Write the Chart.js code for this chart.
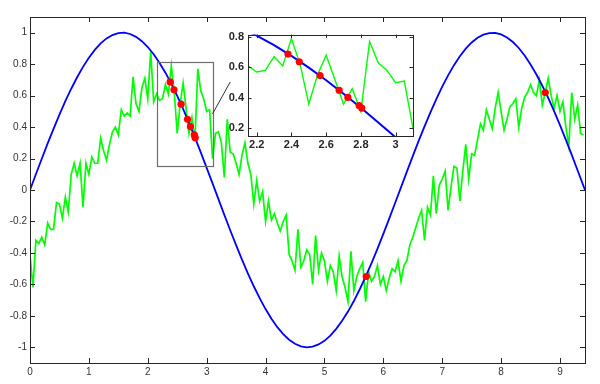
<!DOCTYPE html>
<html>
<head>
<meta charset="utf-8">
<script src="https://cdn.jsdelivr.net/npm/chart.js@4.4.1/dist/chart.umd.min.js"></script>
<style>
  html, body { margin: 0; padding: 0; background: #fff; }
  #wrap { position: relative; width: 600px; height: 384px; }
  #mainChart { position: absolute; left: 0; top: 0; }
  #insetChart { position: absolute; left: 218px; top: 24px; }
</style>
</head>
<body>
<div id="wrap">
  <canvas id="mainChart" width="600" height="384"></canvas>
  <canvas id="insetChart" width="200" height="130"></canvas>
</div>
<script>
// x range of the figure (0 .. 3*pi)
const xMax = 9.4248;

// blue curve, sampled every 0.1 from 0 to 9.4, then the end point
const blueStep = 0.1;
const blueValues = [
  0, 0.100, 0.199, 0.296, 0.389, 0.479, 0.565, 0.644, 0.717, 0.783,
  0.841, 0.891, 0.932, 0.964, 0.985, 0.997, 1.000, 0.992, 0.974, 0.946,
  0.909, 0.863, 0.808, 0.746, 0.675, 0.598, 0.516, 0.427, 0.335, 0.239,
  0.141, 0.042, -0.058, -0.158, -0.256, -0.351, -0.443, -0.530, -0.612, -0.688,
  -0.757, -0.818, -0.872, -0.916, -0.952, -0.978, -0.994, -1.000, -0.996, -0.982,
  -0.959, -0.926, -0.883, -0.832, -0.773, -0.706, -0.631, -0.551, -0.465, -0.374,
  -0.279, -0.182, -0.083, 0.017, 0.117, 0.215, 0.312, 0.405, 0.494, 0.578,
  0.657, 0.729, 0.794, 0.850, 0.899, 0.938, 0.968, 0.988, 0.998, 0.999,
  0.989, 0.970, 0.941, 0.903, 0.855, 0.798, 0.734, 0.663, 0.585, 0.501,
  0.412, 0.319, 0.223, 0.124, 0.025
];
const blueEnd = 0;

// noisy green signal, one value every 0.05 from 0 to 9.4
const greenStep = 0.05;
const greenValues = [
  -0.41, -0.62, -0.32, -0.34, -0.30, -0.35, -0.21, -0.25, -0.25, -0.08,
  -0.09, -0.18, -0.045, -0.14, 0.10, 0.17, 0.09, 0.17, -0.11, 0.17,
  0.10, 0.21, 0.17, 0.17, 0.33, 0.25, 0.19, 0.29, 0.37, 0.40,
  0.35, 0.51, 0.47, 0.49, 0.47, 0.72, 0.55, 0.50, 0.65, 0.71,
  0.58, 0.88, 0.56, 0.61, 0.57, 0.58, 0.67, 0.61, 0.79, 0.62,
  0.36, 0.55, 0.68, 0.52, 0.36, 0.46, 0.31, 0.77, 0.63, 0.58,
  0.50, 0.51, 0.20, 0.36, 0.37, 0.30, 0.08, 0.45, 0.24, 0.23,
  0.17, 0.10, 0.22, 0.30, 0.17, 0.10, -0.09, 0.06, -0.07, -0.01,
  -0.20, -0.07, -0.19, -0.15, -0.21, -0.26, -0.20, -0.16, -0.41, -0.45,
  -0.51, -0.25, -0.49, -0.45, -0.38, -0.41, -0.60, -0.29, -0.51, -0.40,
  -0.45, -0.58, -0.48, -0.52, -0.64, -0.42, -0.55, -0.62, -0.71, -0.39,
  -0.64, -0.55, -0.50, -0.46, -0.71, -0.52, -0.58, -0.55, -0.48, -0.60,
  -0.55, -0.64, -0.56, -0.50, -0.52, -0.45, -0.58, -0.48, -0.45, -0.35,
  -0.30, -0.24, -0.18, -0.13, -0.32, -0.11, -0.16, 0.09, -0.15, 0.03,
  0.07, 0.12, -0.13, 0.02, 0.15, 0.14, -0.07, 0.12, 0.29, 0.07,
  0.23, 0.22, 0.32, 0.42, 0.38, 0.51, 0.45, 0.39, 0.52, 0.62,
  0.50, 0.38, 0.45, 0.53, 0.55, 0.58, 0.40, 0.52, 0.59, 0.62,
  0.67, 0.62, 0.60, 0.70, 0.54, 0.62, 0.71, 0.60, 0.52, 0.60,
  0.50, 0.56, 0.40, 0.28, 0.62, 0.45, 0.54, 0.36, 0.35
];

// red markers where the two curves cross
const crossX = [2.38, 2.445, 2.565, 2.675, 2.725, 2.79, 2.805, 5.71, 8.75];
const crossY = [0.687, 0.637, 0.546, 0.45, 0.403, 0.35, 0.333, -0.55, 0.62];

// tick labels
const xTicks = [0, 1, 2, 3, 4, 5, 6, 7, 8, 9];
const yTicks = [-1, -0.8, -0.6, -0.4, -0.2, 0, 0.2, 0.4, 0.6, 0.8, 1];
const insetXTicks = [2.2, 2.4, 2.6, 2.8, 3];
const insetYTicks = [0.2, 0.4, 0.6, 0.8];

// zoom window shown in the inset
const zoomX = [2.15, 3.1];
const zoomY = [0.15, 0.815];
// connector line, from the zoom box towards the inset
const connX = [3.1, 3.4];
const connY = [0.484, 0.687];

const bluePts = blueValues.map((v, i) => ({ x: +(i * blueStep).toFixed(2), y: v }));
bluePts.push({ x: xMax, y: blueEnd });
const greenPts = greenValues.map((v, i) => ({ x: +(i * greenStep).toFixed(2), y: v }));
const redPts = crossX.map((x, i) => ({ x: x, y: crossY[i] }));

const fmt = v => String(+v.toFixed(1));
const setTicks = arr => scale => { scale.ticks = arr.map(v => ({ value: v })); };

// frame + inward ticks on all four sides (MATLAB look)
function boxPlugin(tickLen, fillWhite, extra) {
  return {
    id: 'box',
    beforeDraw(chart) {
      if (!fillWhite) return;
      const a = chart.chartArea, c = chart.ctx;
      c.save();
      c.fillStyle = '#fff';
      c.fillRect(a.left, a.top, a.right - a.left, a.bottom - a.top);
      c.restore();
    },
    afterDraw(chart) {
      const a = chart.chartArea, c = chart.ctx;
      const sx = chart.scales.x, sy = chart.scales.y;
      c.save();
      if (extra) extra(chart);
      c.strokeStyle = '#262626';
      c.lineWidth = 1;
      c.beginPath();
      sx.ticks.forEach(t => {
        const px = Math.round(sx.getPixelForValue(t.value)) + 0.5;
        c.moveTo(px, a.bottom); c.lineTo(px, a.bottom - tickLen);
        c.moveTo(px, a.top); c.lineTo(px, a.top + tickLen);
      });
      sy.ticks.forEach(t => {
        const py = Math.round(sy.getPixelForValue(t.value)) + 0.5;
        c.moveTo(a.left, py); c.lineTo(a.left + tickLen, py);
        c.moveTo(a.right, py); c.lineTo(a.right - tickLen, py);
      });
      c.stroke();
      c.strokeRect(Math.round(a.left) + 0.5, Math.round(a.top) + 0.5,
        Math.round(a.right - a.left), Math.round(a.bottom - a.top));
      c.restore();
    }
  };
}

function drawZoomBox(chart) {
  const c = chart.ctx, sx = chart.scales.x, sy = chart.scales.y;
  const x0 = Math.round(sx.getPixelForValue(zoomX[0])) + 0.5;
  const x1 = Math.round(sx.getPixelForValue(zoomX[1])) + 0.5;
  const y0 = Math.round(sy.getPixelForValue(zoomY[1])) + 0.5;
  const y1 = Math.round(sy.getPixelForValue(zoomY[0])) + 0.5;
  c.strokeStyle = '#6e6e6e';
  c.lineWidth = 1.2;
  c.strokeRect(x0, y0, x1 - x0, y1 - y0);
  c.strokeStyle = '#333';
  c.lineWidth = 1;
  c.beginPath();
  c.moveTo(sx.getPixelForValue(connX[0]), sy.getPixelForValue(connY[0]));
  c.lineTo(sx.getPixelForValue(connX[1]), sy.getPixelForValue(connY[1]));
  c.stroke();
}

function makeDatasets(lineW, greenW) {
  return [
    { label: 'crossings', data: redPts, order: 0, showLine: false,
      pointRadius: 3.6, pointBackgroundColor: '#ff0000', pointBorderWidth: 0 },
    { label: 'sin', data: bluePts, order: 1, showLine: true, borderColor: '#0000ff',
      borderWidth: lineW, pointRadius: 0, tension: 0 },
    { label: 'noisy', data: greenPts, order: 2, showLine: true, borderColor: '#00ff00',
      borderWidth: greenW, pointRadius: 0, tension: 0 }
  ];
}

// main axes
const mainChart = new Chart(document.getElementById('mainChart').getContext('2d'), {
  type: 'scatter',
  data: { datasets: makeDatasets(1.8, 1.7) },
  options: {
    responsive: false,
    animation: false,
    events: [],
    layout: { padding: { top: 17, right: 15, left: 0, bottom: 0 } },
    plugins: { legend: { display: false }, tooltip: { enabled: false } },
    scales: {
      x: {
        type: 'linear', min: 0, max: xMax,
        grid: { display: false, drawTicks: false },
        border: { display: false },
        afterBuildTicks: setTicks(xTicks),
        afterFit: s => { s.height = 21; },
        ticks: { padding: 3, color: '#333', maxRotation: 0, autoSkip: false,
          font: { family: 'Liberation Sans', size: 10 }, callback: fmt }
      },
      y: {
        type: 'linear', min: -1.1, max: 1.1,
        grid: { display: false, drawTicks: false },
        border: { display: false },
        afterBuildTicks: setTicks(yTicks),
        afterFit: s => { s.width = 30; },
        ticks: { padding: 3, color: '#333', autoSkip: false,
          font: { family: 'Liberation Sans', size: 10 }, callback: fmt }
      }
    }
  },
  plugins: [boxPlugin(5, false, drawZoomBox)]
});

// inset axes (zoomed view)
const insetChart = new Chart(document.getElementById('insetChart').getContext('2d'), {
  type: 'scatter',
  data: { datasets: makeDatasets(2, 1.4) },
  options: {
    responsive: false,
    animation: false,
    events: [],
    layout: { padding: { top: 7, right: 5, left: 0, bottom: 0 } },
    plugins: { legend: { display: false }, tooltip: { enabled: false } },
    scales: {
      x: {
        type: 'linear', min: zoomX[0], max: zoomX[1],
        grid: { display: false, drawTicks: false },
        border: { display: false },
        afterBuildTicks: setTicks(insetXTicks),
        afterFit: s => { s.height = 18; },
        ticks: { padding: 2, color: '#262626', maxRotation: 0, autoSkip: false,
          font: { family: 'Liberation Sans', size: 11, weight: 'bold' }, callback: fmt }
      },
      y: {
        type: 'linear', min: zoomY[0], max: zoomY[1],
        grid: { display: false, drawTicks: false },
        border: { display: false },
        afterBuildTicks: setTicks(insetYTicks),
        afterFit: s => { s.width = 30; },
        ticks: { padding: 4, color: '#262626', autoSkip: false,
          font: { family: 'Liberation Sans', size: 11, weight: 'bold' }, callback: fmt }
      }
    }
  },
  plugins: [boxPlugin(3.5, true, null)]
});
</script>
</body>
</html>
